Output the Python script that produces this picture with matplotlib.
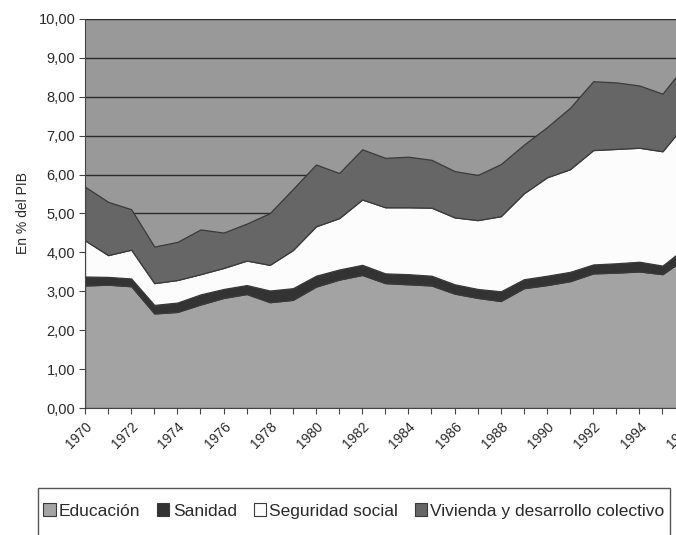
import numpy as np
import matplotlib
matplotlib.use("Agg")
import matplotlib.pyplot as plt
from matplotlib.patches import Patch, Rectangle
from matplotlib.ticker import FuncFormatter, MultipleLocator

plt.rcParams["font.family"] = ["Liberation Sans", "DejaVu Sans"]

# Gasto social en % del PIB
years = list(range(1970, 1997))
educacion = [3.15, 3.17, 3.13, 2.43, 2.47, 2.66, 2.83, 2.93, 2.72, 2.78, 3.12, 3.30, 3.42, 3.21,
             3.18, 3.15, 2.94, 2.83, 2.75, 3.08, 3.16, 3.26, 3.46, 3.48, 3.51, 3.44, 3.85]
sanidad = [0.23, 0.20, 0.20, 0.22, 0.24, 0.26, 0.23, 0.23, 0.30, 0.30, 0.28, 0.26, 0.26, 0.25,
           0.26, 0.25, 0.24, 0.23, 0.25, 0.23, 0.24, 0.24, 0.23, 0.24, 0.25, 0.22, 0.28]
seguridad = [0.93, 0.56, 0.74, 0.56, 0.58, 0.52, 0.54, 0.63, 0.66, 0.98, 1.27, 1.32, 1.68, 1.70,
             1.72, 1.75, 1.72, 1.77, 1.93, 2.21, 2.53, 2.64, 2.94, 2.94, 2.93, 2.94, 3.19]
vivienda = [1.38, 1.37, 1.04, 0.94, 0.98, 1.15, 0.91, 0.95, 1.33, 1.57, 1.59, 1.16, 1.29, 1.27,
            1.30, 1.23, 1.19, 1.16, 1.34, 1.25, 1.29, 1.58, 1.77, 1.71, 1.60, 1.48, 1.51]

labels = ["Educación", "Sanidad", "Seguridad social", "Vivienda y desarrollo colectivo"]
colors = ["#a3a3a3", "#333333", "#fcfcfc", "#666666"]
edge = "#3a3a3a"


def main():
    fig = plt.figure(figsize=(6.76, 5.35), dpi=100)
    W, H = 676, 535
    # plot area runs past the right edge of the picture (the original is cropped there)
    left, right, top, bottom = 85, 685.6, 19, 408
    ax = fig.add_axes([left / W, 1 - bottom / H, (right - left) / W, (bottom - top) / H])
    ax.set_facecolor("#999999")

    ax.stackplot(years, educacion, sanidad, seguridad, vivienda,
                 colors=colors, edgecolor=edge, linewidth=0.9, zorder=2)

    ax.set_xlim(1970, 1996)
    ax.set_ylim(0, 10)
    ax.yaxis.set_major_locator(MultipleLocator(1))
    ax.yaxis.set_major_formatter(FuncFormatter(lambda v, p: f"{v:.2f}".replace(".", ",")))
    ax.grid(axis="y", color="#2a2a2a", linewidth=1.0, zorder=1)
    ax.set_axisbelow(True)

    ax.set_xticks(years)
    ax.set_xticklabels([str(y) if y % 2 == 0 else "" for y in years],
                       rotation=45, ha="right", rotation_mode="anchor", fontsize=10, color="#2a2a2a")
    ax.tick_params(axis="y", labelsize=10.5, labelcolor="#2a2a2a", length=4, color="#444444", pad=3)
    ax.tick_params(axis="x", length=4, color="#444444", pad=4)

    for s in ["top", "right"]:
        ax.spines[s].set_visible(False)
    ax.spines["left"].set_color("#444444")
    ax.spines["bottom"].set_color("#444444")

    ax.set_ylabel("En % del PIB", fontsize=10, color="#2a2a2a", labelpad=6)

    # legend frame drawn by hand: its lower edge falls outside the picture, as in the original
    fig.patches.append(Rectangle((38 / W, 1 - 545 / H), (670 - 38) / W, (545 - 488) / H,
                                 transform=fig.transFigure, facecolor="white",
                                 edgecolor="#555555", linewidth=1.0))
    handles = [Patch(facecolor=c, edgecolor=edge, linewidth=0.8) for c in colors]
    fig.legend(handles, labels, ncol=4, mode="expand",
               bbox_to_anchor=(40 / W, 1 - 521 / H, (668 - 40) / W, 20 / H),
               loc="center", fontsize=12.5, frameon=False,
               handlelength=0.7, handleheight=0.7,
               handletextpad=0.2, columnspacing=0.4, borderaxespad=0, borderpad=0.2,
               labelcolor="#2a2a2a")

    fig.savefig("out.png", dpi=100)
    plt.close(fig)


if __name__ == "__main__":
    main()
